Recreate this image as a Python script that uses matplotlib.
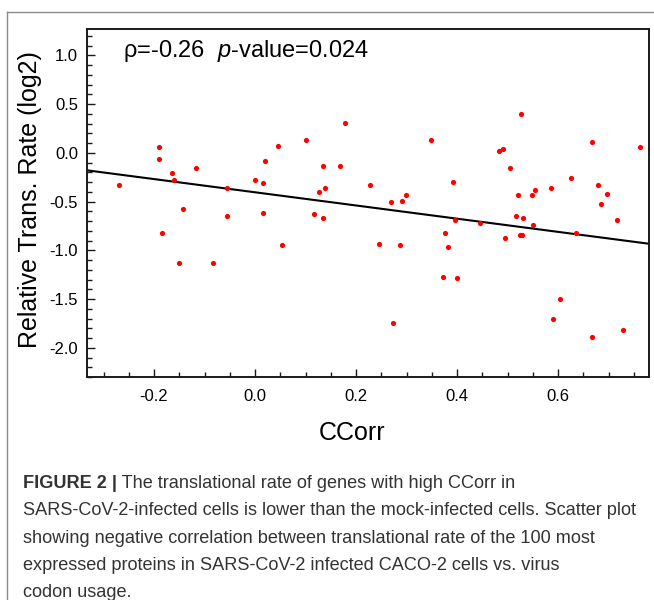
import matplotlib
matplotlib.use('Agg')
import matplotlib.pyplot as plt
from matplotlib.lines import Line2D
from matplotlib.ticker import MultipleLocator, FixedLocator, FormatStrFormatter
import numpy as np

# ---------------- data ----------------
ccorr = [-0.269, -0.191, -0.191, -0.164, -0.160, -0.143, -0.116, -0.055, -0.001, 0.016,
         0.019, 0.046, 0.100, 0.135, 0.138, 0.127, 0.168, 0.179, 0.228, 0.270,
         0.290, 0.298, 0.348, 0.392, 0.484, 0.490, 0.504, 0.527, 0.521, 0.548,
         0.555, 0.585, 0.626, 0.667, 0.680, 0.697, 0.684, 0.762, -0.184, -0.150,
         -0.083, -0.055, 0.016, 0.053, 0.117, 0.135, 0.246, 0.287, 0.273, 0.395,
         0.376, 0.382, 0.372, 0.399, 0.446, 0.494, 0.517, 0.531, 0.524, 0.528,
         0.551, 0.636, 0.717, 0.603, 0.589, 0.667, 0.728]
trans_rate = [-0.330, 0.057, -0.064, -0.208, -0.277, -0.577, -0.153, -0.366, -0.277, -0.310,
              -0.080, 0.074, 0.129, -0.136, -0.366, -0.400, -0.136, 0.307, -0.330, -0.507,
              -0.490, -0.438, 0.129, -0.297, 0.022, 0.039, -0.153, 0.393, -0.438, -0.438,
              -0.383, -0.366, -0.260, 0.111, -0.330, -0.418, -0.524, 0.057, -0.826, -1.126,
              -1.126, -0.648, -0.613, -0.950, -0.630, -0.665, -0.933, -0.950, -1.744, -0.686,
              -0.826, -0.967, -1.270, -1.287, -0.720, -0.878, -0.648, -0.665, -0.843, -0.843,
              -0.737, -0.823, -0.686, -1.497, -1.710, -1.885, -1.816]
fit_slope = -0.677
fit_intercept = -0.405
rho_value = "-0.26"
p_value = "0.024"
x_ticks = [-0.2, 0.0, 0.2, 0.4, 0.6]
y_ticks = [-2.0, -1.5, -1.0, -0.5, 0.0, 0.5, 1.0]
x_label = "CCorr"
y_label = "Relative Trans. Rate (log2)"
caption_bold = "FIGURE 2 |"
caption_lines = [
    " The translational rate of genes with high CCorr in",
    "SARS-CoV-2-infected cells is lower than the mock-infected cells. Scatter plot",
    "showing negative correlation between translational rate of the 100 most",
    "expressed proteins in SARS-CoV-2 infected CACO-2 cells vs. virus",
    "codon usage.",
]

# ---------------- styling ----------------
plt.rcParams['font.family'] = ['Liberation Sans', 'DejaVu Sans']
plt.rcParams['axes.unicode_minus'] = False
plt.rcParams['mathtext.fontset'] = 'custom'
plt.rcParams['mathtext.rm'] = 'Liberation Sans'
plt.rcParams['mathtext.it'] = 'Liberation Sans:italic'

W, H = 654, 600
fig = plt.figure(figsize=(W / 100, H / 100), dpi=100)
fig.patch.set_facecolor('white')


def fx(px):
    return px / W


def fy(py):
    return 1 - py / H


ax_l, ax_r, ax_t, ax_b = 87, 649, 29, 377
ax = fig.add_axes([fx(ax_l), fy(ax_b), (ax_r - ax_l) / W, (ax_b - ax_t) / H])
ax.set_xlim(-0.3327, 0.780)
ax.set_ylim(-2.30, 1.27)

ax.scatter(ccorr, trans_rate, s=14, color='#ff0000', linewidths=0, zorder=3)
xx = np.array(ax.get_xlim())
ax.plot(xx, fit_intercept + fit_slope * xx, color='black', lw=1.5, zorder=2,
        solid_capstyle='butt')

for s in ax.spines.values():
    s.set_color('#1a1a1a')
    s.set_linewidth(1.4)

ax.xaxis.set_major_locator(FixedLocator(x_ticks))
ax.yaxis.set_major_locator(FixedLocator(y_ticks))
ax.xaxis.set_minor_locator(MultipleLocator(0.05))
ax.yaxis.set_minor_locator(MultipleLocator(0.1))
ax.xaxis.set_major_formatter(FormatStrFormatter('%.1f'))
ax.yaxis.set_major_formatter(FormatStrFormatter('%.1f'))
ax.tick_params(which='both', direction='in', top=False, right=False,
               color='#1a1a1a', width=1.0)
ax.tick_params(which='major', length=6, labelsize=12)
ax.tick_params(which='minor', length=3.5)
ax.tick_params(axis='x', which='major', pad=8.5)
ax.tick_params(axis='y', which='major', pad=6.5)

# annotation
ax.text((123 - ax_l) / (ax_r - ax_l), (ax_b - 57) / (ax_b - ax_t),
        "\u03c1=" + rho_value + "  $p$-value=" + p_value,
        transform=ax.transAxes, fontsize=17, ha='left', va='baseline', color='black')

# axis labels
fig.text(fx(352), fy(440), x_label, fontsize=18, ha='center', va='baseline')
fig.text(fx(30), fy(200), y_label, fontsize=18, ha='center', va='center', rotation=90)

# frame lines
frame_col = '#8c8c8c'
fig.add_artist(Line2D([fx(7), 1.0], [fy(12), fy(12)], color=frame_col, lw=1.0,
                      transform=fig.transFigure))
fig.add_artist(Line2D([fx(7), fx(7)], [fy(12), 0.0], color=frame_col, lw=1.0,
                      transform=fig.transFigure))

# caption, fitted to reference width of the longest line
renderer = fig.canvas.get_renderer()
probe = fig.text(0, 0, caption_lines[1], fontsize=12)
w12 = probe.get_window_extent(renderer).width
probe.remove()
cap_fs = 12 * 614 / w12
cap_col = '#333333'
baselines = [488, 515, 543, 570, 597]
tb = fig.text(fx(23), fy(baselines[0]), caption_bold, fontsize=cap_fs, fontweight='bold',
              color=cap_col, ha='left', va='baseline')
bw = tb.get_window_extent(renderer).width
fig.text(fx(23 + bw), fy(baselines[0]), caption_lines[0], fontsize=cap_fs,
         color=cap_col, ha='left', va='baseline')
for line, b in zip(caption_lines[1:], baselines[1:]):
    fig.text(fx(23), fy(b), line, fontsize=cap_fs, color=cap_col, ha='left', va='baseline')

fig.savefig('out.png', dpi=100)
